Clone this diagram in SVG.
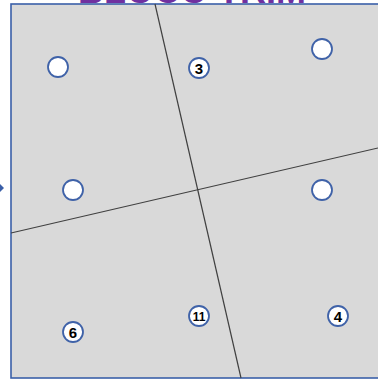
<svg xmlns="http://www.w3.org/2000/svg" width="378" height="380" viewBox="0 0 378 380">
<style>
.n{fill:#fff;stroke:#3f62a8;stroke-width:1.8}
.t{font-family:"Liberation Sans",Arial,sans-serif;font-weight:bold;fill:#000;text-anchor:middle}
.c{stroke:#404040;stroke-width:1.2;fill:none}
</style>
<rect width="378" height="380" fill="#fff"/>
<text x="192" y="3" font-family="Liberation Sans,Arial,sans-serif" font-weight="bold" font-size="36" fill="#7030a0" text-anchor="middle">BLOCO TRIM</text>
<rect x="11" y="4" width="370" height="374" fill="#d9d9d9" stroke="#3a5fa8" stroke-width="1.6"/>
<path d="M0,184 L4,188 L0,192 Z" fill="#3a5fa8"/>
<g id="connectors">
<line class="c" x1="155" y1="4" x2="241" y2="378"/>
<line class="c" x1="11" y1="233" x2="378" y2="148"/>
</g>
<g id="n1"><circle class="n" cx="58" cy="67" r="10"/></g>
<g id="n2"><circle class="n" cx="199" cy="68" r="10"/><text class="t" x="199" y="73.5" font-size="15">3</text></g>
<g id="n3"><circle class="n" cx="322" cy="49" r="10"/></g>
<g id="n4"><circle class="n" cx="73" cy="190" r="10"/></g>
<g id="n5"><circle class="n" cx="322" cy="190" r="10"/></g>
<g id="n6"><circle class="n" cx="199" cy="316" r="10"/><text class="t" x="199" y="320.5" font-size="12">11</text></g>
<g id="n7"><circle class="n" cx="73" cy="332" r="10"/><text class="t" x="73" y="337.5" font-size="15">6</text></g>
<g id="n8"><circle class="n" cx="338" cy="316" r="10"/><text class="t" x="338" y="321.5" font-size="15">4</text></g>
</svg>
